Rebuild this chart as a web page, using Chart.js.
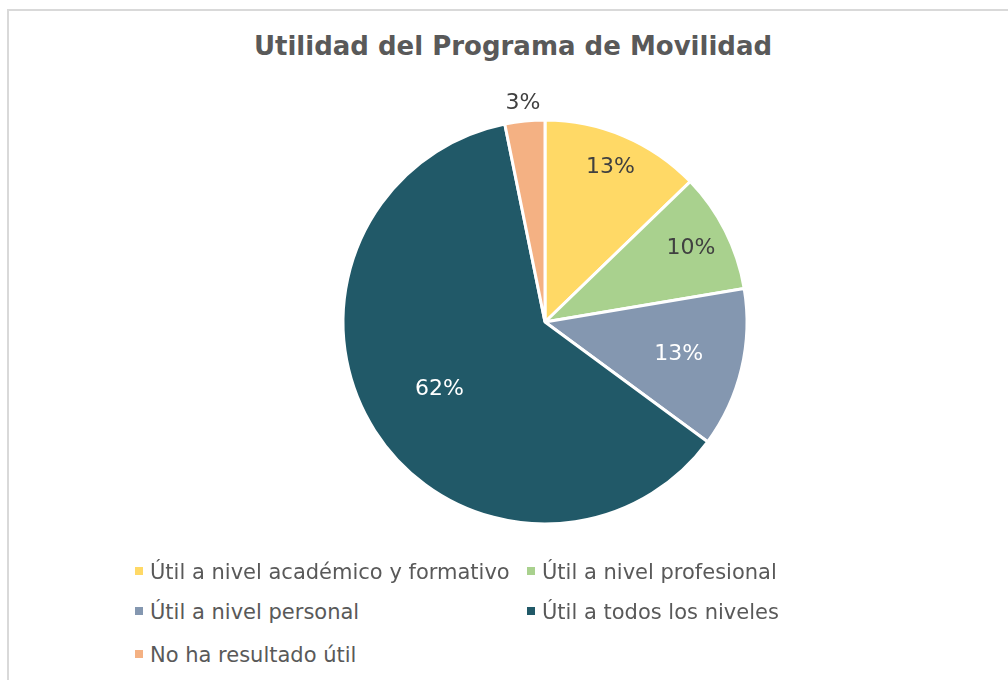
<!DOCTYPE html>
<html>
<head>
<meta charset="utf-8">
<script src="https://cdn.jsdelivr.net/npm/chart.js@4"></script>
<style>
  body { margin: 0; background: #fff; width: 1008px; height: 680px; overflow: hidden; position: relative; font-family: "DejaVu Sans", Verdana, sans-serif; }
  .frame { position: absolute; left: 7px; top: 9px; width: 1020px; height: 700px; border: 2px solid #d9d9d9; box-sizing: border-box; }
  .title { position: absolute; left: 0; width: 1026px; top: 31px; text-align: center; font-weight: bold; font-size: 26px; color: #595959; }
  #chart-wrap { position: absolute; left: 285px; top: 62px; width: 520px; height: 520px; }
  .legend-item { position: absolute; font-size: 21px; color: #595959; white-space: nowrap; line-height: 24px; }
  .legend-item span.box { display: inline-block; width: 8px; height: 8px; margin-right: 7px; vertical-align: middle; position: relative; top: -2px; }
</style>
</head>
<body>
<div class="frame"></div>
<div class="title">Utilidad del Programa de Movilidad</div>
<div id="chart-wrap"><canvas id="pie"></canvas></div>
<div id="legend"></div>
<script>
const categories = [
    'Útil a nivel académico y formativo',
    'Útil a nivel profesional',
    'Útil a nivel personal',
    'Útil a todos los niveles',
    'No ha resultado útil'
];
const counts = [12, 9, 12, 58, 3];
const sliceColors = ['#FFD966', '#A9D18E', '#8497B0', '#215968', '#F4B183'];
const labelColors = ['#404040', '#404040', '#ffffff', '#ffffff', '#404040'];
// how far out each percent label sits, as a share of the radius
const labelRadius = [0.83, 0.81, 0.68, 0.62, 1.09];

const total = counts.reduce((a, b) => a + b, 0);

const pieLabels = {
    id: 'pieLabels',
    afterDatasetsDraw(chart) {
        const ctx = chart.ctx;
        const arcs = chart.getDatasetMeta(0).data;
        ctx.save();
        ctx.font = '22px "DejaVu Sans", Verdana, sans-serif';
        ctx.textAlign = 'center';
        ctx.textBaseline = 'middle';
        arcs.forEach((arc, i) => {
            const mid = (arc.startAngle + arc.endAngle) / 2;
            const r = arc.outerRadius * labelRadius[i];
            const x = arc.x + Math.cos(mid) * r;
            const y = arc.y + Math.sin(mid) * r;
            ctx.fillStyle = labelColors[i];
            ctx.fillText(Math.round(counts[i] / total * 100) + '%', x, y);
        });
        ctx.restore();
    }
};

const chart = new Chart(document.getElementById('pie').getContext('2d'), {
    type: 'pie',
    data: {
        labels: categories,
        datasets: [{
            data: counts,
            backgroundColor: sliceColors,
            borderColor: '#ffffff',
            borderWidth: 3
        }]
    },
    options: {
        responsive: true,
        maintainAspectRatio: false,
        animation: false,
        radius: 202,
        plugins: {
            legend: { display: false },
            tooltip: { enabled: false }
        }
    },
    plugins: [pieLabels]
});

// legend laid out like the original: two columns, three rows
const legendSpots = [[135, 560], [527, 560], [135, 600], [527, 600], [135, 643]];
const legend = document.getElementById('legend');
categories.forEach((name, i) => {
    const item = document.createElement('div');
    item.className = 'legend-item';
    item.style.left = legendSpots[i][0] + 'px';
    item.style.top = legendSpots[i][1] + 'px';
    item.innerHTML = `<span class="box" style="background:${sliceColors[i]}"></span>${name}`;
    legend.appendChild(item);
});
</script>
</body>
</html>
